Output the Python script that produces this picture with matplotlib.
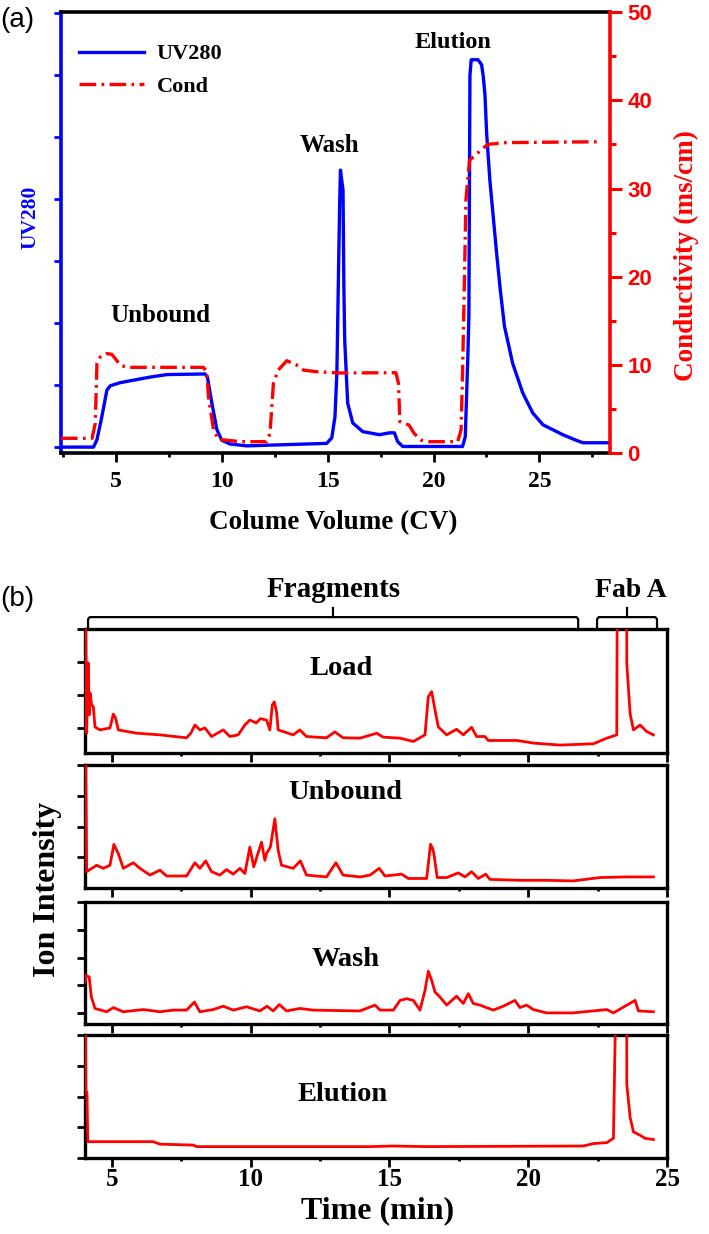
import matplotlib
matplotlib.use("Agg")
import matplotlib.pyplot as plt
from matplotlib.ticker import MultipleLocator

plt.rcParams["font.family"] = ["Liberation Serif", "DejaVu Serif"]
plt.rcParams["font.weight"] = "bold"
plt.rcParams["axes.labelweight"] = "bold"

BLUE = "#0000ff"
RED = "#ff0000"

# ── (a) column run: UV280 and conductivity vs column volume ──────────────────
cv_uv = [2.39, 3.93, 4.09, 4.32, 4.56, 4.72, 5.19, 6.13, 6.61, 7.39, 9.20, 9.31,
         9.52, 9.76, 9.99, 10.38, 11.17, 13.06, 14.95, 15.19, 15.34, 15.43, 15.50,
         15.56, 15.60, 15.66, 15.72, 15.76, 15.80, 15.94, 16.18, 16.65, 17.44,
         17.91, 18.15, 18.30, 18.54, 21.37, 21.50, 21.62, 21.67, 21.72, 21.78,
         22.10, 22.27, 22.35, 22.43, 22.51, 22.66, 22.82, 22.98, 23.15, 23.35,
         23.74, 24.22, 24.69, 25.17, 25.64, 26.11, 26.74, 27.06, 28.24]
uv280 = [0.0, 0.0, 0.12, 0.49, 0.92, 0.99, 1.04, 1.10, 1.13, 1.17, 1.18, 1.13,
         0.71, 0.28, 0.11, 0.05, 0.02, 0.04, 0.06, 0.15, 0.49, 1.20, 2.67,
         3.90, 4.47, 4.30, 4.15, 2.60, 1.73, 0.71, 0.39, 0.25, 0.20,
         0.23, 0.23, 0.09, 0.01, 0.01, 0.17, 1.46, 2.11, 6.00, 6.25,
         6.25, 6.17, 5.98, 5.68, 5.06, 4.31, 3.72, 3.13, 2.55, 1.95,
         1.35, 0.87, 0.55, 0.36, 0.28, 0.20, 0.11, 0.07, 0.07]

cv_cond = [2.39, 3.86, 4.01, 4.09, 4.24, 4.56, 4.80, 5.19, 5.50, 9.12, 9.28, 9.36,
           9.60, 9.83, 10.86, 12.12, 12.27, 12.43, 12.66, 13.06, 13.53, 13.85,
           14.48, 15.58, 18.22, 18.34, 18.41, 18.84, 19.08, 19.40, 19.80, 21.14,
           21.30, 21.37, 21.45, 21.53, 21.70, 22.17, 22.56, 23.43, 27.84]
cond = [1.7, 1.7, 3.4, 10.2, 10.9, 11.3, 11.2, 10.0, 9.74, 9.74, 9.24, 6.4,
        2.64, 1.58, 1.32, 1.32, 2.26, 7.93, 9.43, 10.49, 10.0, 9.43,
        9.24, 9.10, 9.13, 7.93, 3.58, 3.2, 2.26, 1.5, 1.32, 1.32,
        2.64, 9.06, 18.5, 28.7, 33.2, 34.2, 35.0, 35.2, 35.3]

# ── (b) ion chromatograms of the fractions ───────────────────────────────────
t_load = [4.04, 4.09, 4.12, 4.15, 4.18, 4.21, 4.27, 4.33, 4.39, 4.57, 4.93, 5.05,
          5.13, 5.23, 5.89, 6.73, 7.69, 7.85, 7.99, 8.17, 8.35, 8.59, 9.01, 9.25,
          9.55, 9.79, 9.97, 10.20, 10.35, 10.57, 10.69, 10.78, 10.85, 10.93, 10.99,
          11.53, 11.77, 12.01, 12.73, 13.03, 13.33, 13.94, 14.54, 14.78, 15.38,
          15.86, 16.28, 16.40, 16.52, 16.64, 16.76, 17.06, 17.42, 17.66, 17.96,
          18.14, 18.44, 18.56, 19.59, 20.19, 21.15, 22.35, 22.83, 23.19, 23.21,
          23.55, 23.55, 23.67, 23.79, 24.03, 24.27, 24.51]
i_load = [6.0, 0.84, 2.40, 2.97, 1.40, 2.06, 1.70, 1.64, 1.03, 0.94, 1.00, 1.42,
          1.30, 0.94, 0.84, 0.79, 0.70, 0.85, 1.09, 0.94, 1.00, 0.74, 0.94, 0.74,
          0.79, 1.09, 1.24, 1.15, 1.28, 1.24, 0.94, 1.70, 1.79, 1.50, 0.94,
          0.79, 0.94, 0.74, 0.70, 0.88, 0.70, 0.69, 0.84, 0.72, 0.69,
          0.59, 0.79, 1.95, 2.10, 1.55, 1.03, 0.79, 0.96, 0.79, 1.02,
          0.74, 0.74, 0.62, 0.62, 0.54, 0.48, 0.52, 0.69, 0.79, 6.0,
          6.0, 2.96, 1.44, 0.94, 1.09, 0.89, 0.79]

t_unb = [4.04, 4.09, 4.45, 4.69, 4.93, 5.07, 5.23, 5.41, 5.77, 6.01, 6.37, 6.73,
         6.97, 7.69, 7.99, 8.17, 8.38, 8.59, 8.89, 9.13, 9.37, 9.61, 9.79, 9.97,
         10.11, 10.39, 10.51, 10.57, 10.71, 10.87, 10.99, 11.11, 11.53, 11.79,
         12.01, 12.73, 13.07, 13.33, 13.94, 14.30, 14.63, 14.84, 15.44, 15.68,
         16.34, 16.48, 16.55, 16.60, 16.72, 17.06, 17.48, 17.72, 17.96, 18.20,
         18.47, 18.62, 19.70, 20.66, 21.62, 22.59, 23.55, 24.51]
i_unb = [6.0, 0.53, 0.74, 0.64, 0.74, 1.42, 1.12, 0.64, 0.82, 0.64, 0.42, 0.58,
         0.39, 0.39, 0.82, 0.64, 0.88, 0.53, 0.42, 0.60, 0.45, 0.64, 0.47, 1.33,
         0.69, 1.49, 0.90, 1.12, 1.33, 2.25, 1.23, 0.74, 0.64, 0.88,
         0.42, 0.36, 0.82, 0.42, 0.36, 0.42, 0.64, 0.39, 0.45, 0.31,
         0.31, 1.42, 1.30, 1.12, 0.34, 0.34, 0.49, 0.36, 0.53, 0.31,
         0.45, 0.28, 0.25, 0.25, 0.23, 0.34, 0.36, 0.36]

t_wash = [4.04, 4.06, 4.18, 4.26, 4.39, 4.81, 5.05, 5.41, 6.13, 6.73, 7.21, 7.69,
          7.97, 8.17, 8.65, 9.01, 9.37, 9.85, 10.33, 10.59, 10.81, 11.03, 11.29,
          11.77, 12.25, 13.94, 14.48, 14.66, 15.14, 15.38, 15.62, 15.86, 16.10,
          16.28, 16.40, 16.52, 16.64, 16.82, 17.06, 17.42, 17.66, 17.84, 18.02,
          18.26, 18.74, 19.10, 19.52, 19.70, 19.94, 20.18, 20.66, 21.62, 22.83,
          23.07, 23.85, 23.97, 24.51]
i_wash = [2.12, 2.36, 2.30, 1.58, 1.17, 1.05, 1.20, 1.05, 1.13, 1.05, 1.11, 1.11,
          1.40, 1.05, 1.13, 1.25, 1.11, 1.23, 1.08, 1.25, 1.08, 1.31, 1.08,
          1.17, 1.11, 1.08, 1.29, 1.11, 1.11, 1.46, 1.52, 1.46, 1.11,
          1.82, 2.51, 2.18, 1.76, 1.58, 1.29, 1.61, 1.35, 1.70, 1.35,
          1.29, 1.11, 1.25, 1.46, 1.20, 1.29, 1.13, 1.01, 1.01, 1.13,
          1.01, 1.46, 1.08, 1.05]

t_elu = [4.04, 4.06, 4.10, 4.13, 6.49, 6.73, 7.93, 8.05, 10.33, 14.30, 15.14,
         16.34, 21.99, 22.35, 22.83, 23.07, 23.17, 23.55, 23.55, 23.67, 23.79,
         24.03, 24.21, 24.51]
i_elu = [6.0, 2.14, 2.14, 0.53, 0.53, 0.45, 0.42, 0.37, 0.37, 0.37, 0.39,
         0.37, 0.39, 0.47, 0.50, 0.64, 6.0, 6.0, 2.41, 1.33, 0.85,
         0.74, 0.64, 0.60]

panel_names = ["Load", "Unbound", "Wash", "Elution"]
panel_t = [t_load, t_unb, t_wash, t_elu]
panel_i = [i_load, i_unb, i_wash, i_elu]
panel_ylim = [(0.24, 4.0), (0.0, 4.0), (0.61, 5.0), (0.0, 4.0)]
panel_yticks = [[1, 2, 3, 4], [1, 2, 3, 4], [1, 2, 3, 4, 5], [0, 1, 2, 3, 4]]
panel_label_xy = [(0.44, 0.685), (0.448, 0.78), (0.448, 0.525), (0.443, 0.52)]

FRAG_SPAN = (4.14, 21.8)
FAB_SPAN = (22.48, 24.64)

W, H = 709, 1234


def px_rect(left, top, right, bottom):
    return [left / W, 1 - bottom / H, (right - left) / W, (bottom - top) / H]


fig = plt.figure(figsize=(W / 100, H / 100), dpi=100)

# ── Panel (a) ────────────────────────────────────────────────────────────────
ax = fig.add_axes(px_rect(61, 12, 610, 453.3))
ax2 = ax.twinx()
l_uv, = ax.plot(cv_uv, uv280, color=BLUE, lw=2.4, label="UV280")
l_cd, = ax2.plot(cv_cond, cond, color=RED, lw=2.4, dashes=(5, 1.6, 0.8, 1.6),
                 label="Cond")

ax.set_xlim(2.39, 28.34)
ax.set_ylim(-0.1, 7.02)
ax2.set_ylim(0, 50)
ax.set_yticks(range(8))
ax.set_yticklabels([])
ax.xaxis.set_major_locator(MultipleLocator(5))
ax.xaxis.set_minor_locator(MultipleLocator(2.5))
ax2.yaxis.set_major_locator(MultipleLocator(10))
ax2.yaxis.set_minor_locator(MultipleLocator(5))

ax.tick_params(axis="x", which="major", direction="out", length=6.5, width=2,
               labelsize=17, pad=6)
ax.tick_params(axis="x", which="minor", direction="out", length=3, width=2)
ax.tick_params(axis="y", direction="out", length=5, width=2, colors=BLUE)
ax2.tick_params(axis="y", which="major", direction="out", length=8.5, width=2.2,
                colors=RED, labelsize=16, pad=4)
ax2.tick_params(axis="y", which="minor", direction="out", length=4.3, width=2.2,
                colors=RED)
for lbl in ax2.get_yticklabels():
    lbl.set_fontfamily("Liberation Sans")

for sp in ax.spines.values():
    sp.set_linewidth(2.6)
ax.spines["left"].set_color(BLUE)
ax.spines["right"].set_visible(False)
for side in ("left", "top", "bottom"):
    ax2.spines[side].set_visible(False)
ax2.spines["right"].set_color(RED)
ax2.spines["right"].set_linewidth(2.6)

ax.set_xlabel("Colume Volume (CV)", fontsize=19.5, fontweight="bold")
ax.xaxis.set_label_coords(0.495, -0.156)
ax.xaxis.label.set_va("center")
ax.set_ylabel("UV280", color=BLUE, fontsize=15.5, fontweight="bold")
ax.yaxis.set_label_coords(-0.056, 0.535)
ax.yaxis.label.set_va("center")
ax2.set_ylabel("Conductivity (ms/cm)", color=RED, fontsize=19.5,
               fontweight="bold")
ax2.yaxis.set_label_coords(1.140, 0.449)
ax2.yaxis.label.set_va("center")

ax.legend([l_uv, l_cd], ["UV280", "Cond"], loc="upper left",
          bbox_to_anchor=(0.033, 0.928), frameon=False,
          prop={"size": 16, "weight": "bold"}, handlelength=2.9,
          handletextpad=0.6, labelspacing=0.55, borderpad=0, borderaxespad=0)

ax.text(7.08, 2.12, "Unbound", fontsize=18, ha="center", va="center")
ax.text(15.06, 4.86, "Wash", fontsize=18, ha="center", va="center")
ax.text(20.92, 6.53, "Elution", fontsize=17.5, ha="center", va="center")

fig.text(0.0, 1 - 20 / H, "(a)", fontfamily="Liberation Sans",
         fontweight="normal", fontsize=20, va="center")

# ── Panel (b) ────────────────────────────────────────────────────────────────
boxes = [(629, 753), (765, 888), (902, 1024), (1035, 1158)]
axes_b = []
for k, (top, bot) in enumerate(boxes):
    a = fig.add_axes(px_rect(85, top, 667, bot))
    a.plot(panel_t[k], panel_i[k], color=RED, lw=2.0, zorder=3)
    a.set_xlim(4.03, 25)
    a.set_ylim(*panel_ylim[k])
    a.set_yticks(panel_yticks[k])
    a.set_yticklabels([])
    a.xaxis.set_major_locator(MultipleLocator(5))
    a.xaxis.set_minor_locator(MultipleLocator(2.5))
    a.tick_params(axis="x", which="major", direction="out", length=6.5,
                  width=2, labelsize=18, pad=0.5,
                  labelbottom=(k == len(boxes) - 1))
    a.tick_params(axis="x", which="minor", direction="out", length=2.5, width=2)
    a.tick_params(axis="y", direction="out", length=6, width=2)
    for sp in a.spines.values():
        sp.set_linewidth(2.4)
    lx, ly = panel_label_xy[k]
    a.text(lx, ly, panel_names[k], transform=a.transAxes, fontsize=20.5,
           ha="center", va="center")
    axes_b.append(a)

ax_load = axes_b[0]
for (x0, x1), tick_x in [(FRAG_SPAN, 12.97), (FAB_SPAN, 23.56)]:
    ax_load.plot([x0, x0, x0 + 0.06, x1 - 0.06, x1, x1],
                 [4.06, 4.30, 4.36, 4.36, 4.30, 4.06],
                 color="black", lw=1.6, clip_on=False)
    ax_load.plot([tick_x, tick_x], [4.36, 4.64], color="black", lw=1.6,
                 clip_on=False)
ax_load.text(13.0, 4.97, "Fragments", fontsize=21, ha="center", va="baseline")
ax_load.text(23.7, 4.97, "Fab A", fontsize=20, ha="center", va="baseline")

ax_elu = axes_b[-1]
ax_elu.set_xlabel("Time (min)", fontsize=23, fontweight="bold")
ax_elu.xaxis.set_label_coords(0.502, -0.431)
ax_elu.xaxis.label.set_va("center")

fig.text(48 / W, 1 - 889 / H, "Ion Intensity", rotation=90, fontsize=23,
         fontweight="bold", ha="center", va="center")
fig.text(0.0, 1 - 599 / H, "(b)", fontfamily="Liberation Sans",
         fontweight="normal", fontsize=20, va="center")

fig.savefig("out.png", dpi=100)
